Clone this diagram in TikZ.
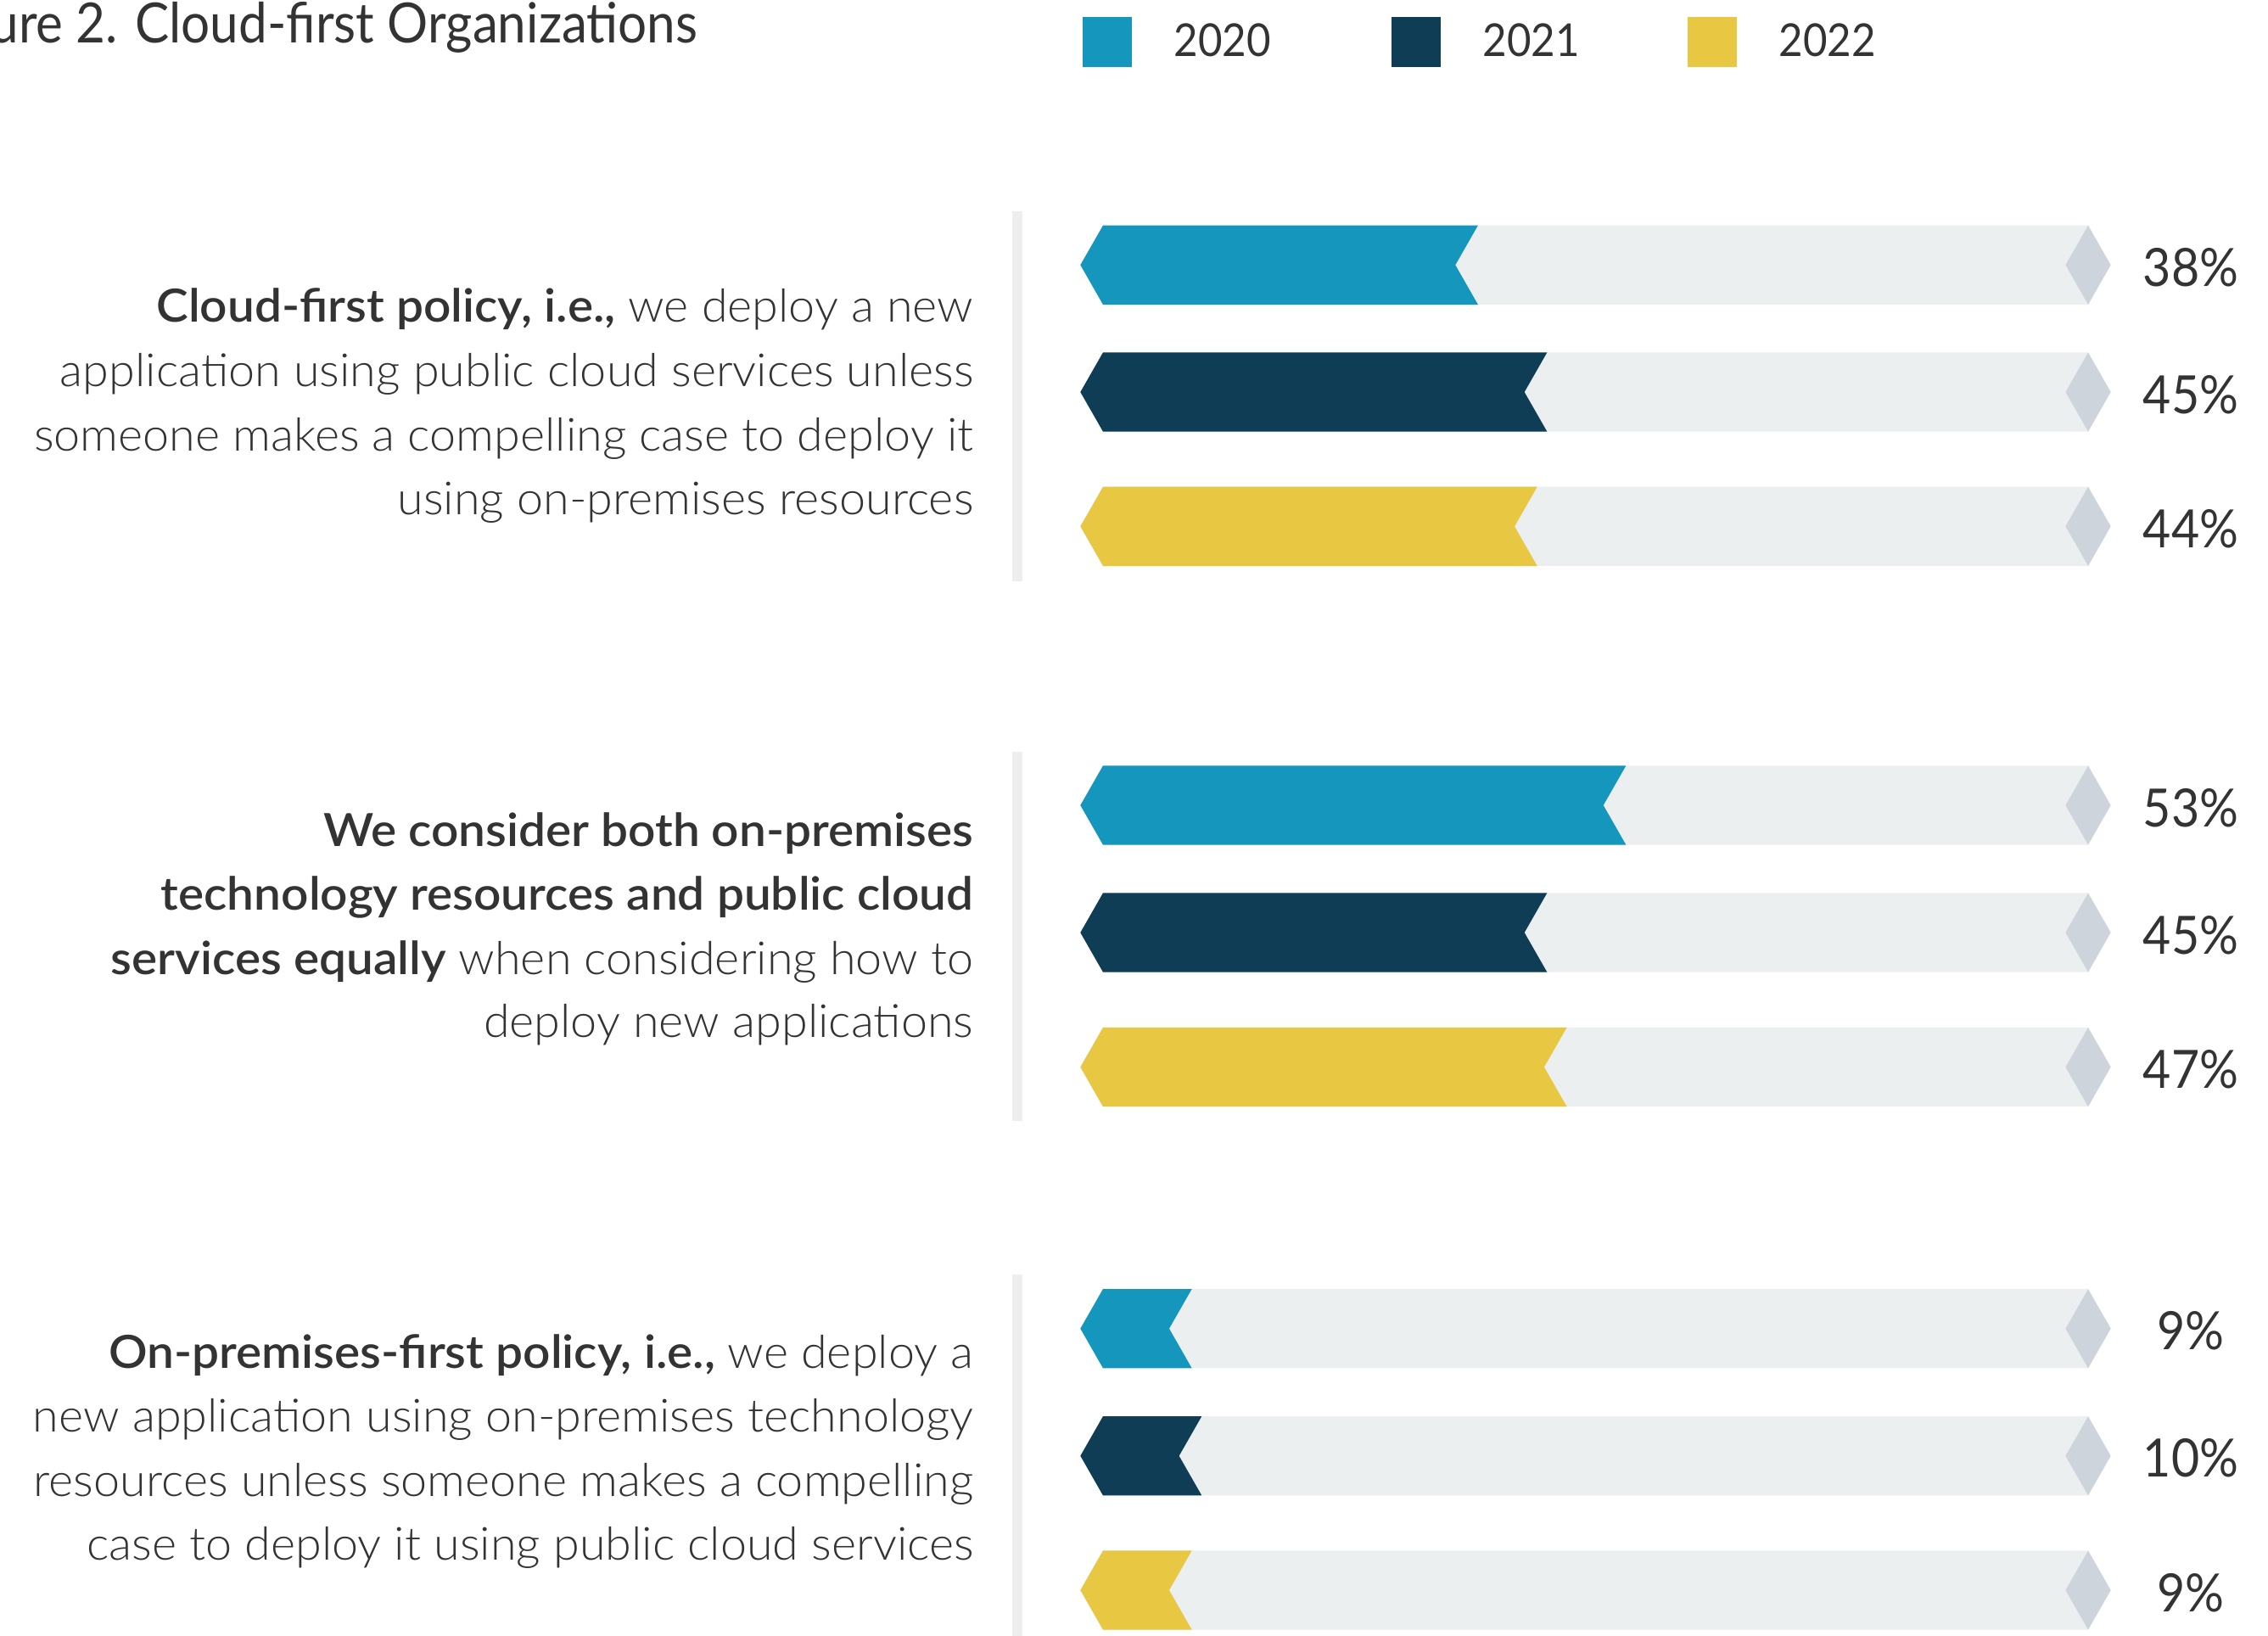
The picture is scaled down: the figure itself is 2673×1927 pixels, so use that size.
\documentclass[tikz,border=0pt]{standalone}
\usepackage{fontspec}
\setmainfont{Lato}[FakeStretch=0.92]
\newfontfamily\lightfont{Lato}[UprightFont={* Light}, BoldFont={* Semibold},
  UprightFeatures={FakeStretch=1.035}, BoldFeatures={FakeStretch=1.055}]

\definecolor{y2020}{RGB}{21,150,188}
\definecolor{y2021}{RGB}{15,61,85}
\definecolor{y2022}{RGB}{232,199,67}
\definecolor{track}{RGB}{235,239,240}
\definecolor{tipgray}{RGB}{205,212,220}
\definecolor{rule}{RGB}{238,238,238}
\definecolor{txt}{RGB}{51,51,51}

\tikzset{
  title/.style={anchor=base east, inner sep=0pt, text=txt, font=\fontsize{18.6pt}{21pt}\selectfont},
  yearlab/.style={anchor=base west, inner sep=0pt, text=txt, font=\fontsize{15.2pt}{18pt}\selectfont},
  desc/.style={anchor=base east, inner sep=0pt, text=txt, font=\lightfont\fontsize{15.3pt}{21.5pt}\selectfont},
  pct/.style={anchor=base, inner sep=0pt, text=txt, font=\fontsize{17.7pt}{20pt}\selectfont},
}

% one bar: mid y, percent, colour
\newcommand\chevbar[3]{%
  \fill[track] (1300,{#1-46.7}) -- (2461,{#1-46.7}) -- (2434.3,#1) -- (2461,{#1+46.7}) -- (1300,{#1+46.7}) -- (1273.3,#1) -- cycle;
  \fill[#3] (1273.3,#1) -- (1300,{#1-46.7}) -- ({1300+11.63*#2},{#1-46.7}) -- ({1273.3+11.63*#2},#1) -- ({1300+11.63*#2},{#1+46.7}) -- (1300,{#1+46.7}) -- cycle;
  \fill[tipgray] (2434.3,#1) -- (2461,{#1-46.7}) -- (2487.7,#1) -- (2461,{#1+46.7}) -- cycle;
}

\begin{document}
\begin{tikzpicture}[x=0.01cm, y=-0.01cm]
\useasboundingbox (0,0) rectangle (2673,1927);

% title and legend
\node[title] (title) at (823,51) {Figure 2. Cloud-first Organizations};
\fill[y2020] (1276,20) rectangle (1334,79);
\node[yearlab] (l2020) at (1383,66.5) {2020};
\fill[y2021] (1640,20) rectangle (1698,79);
\node[yearlab] (l2021) at (1747,66.5) {2021};
\fill[y2022] (1989,20) rectangle (2047,79);
\node[yearlab] (l2022) at (2096,66.5) {2022};

% dividers
\fill[rule] (1193,249.3) rectangle (1205,685);
\fill[rule] (1193,885.7) rectangle (1205,1321);
\fill[rule] (1193,1502) rectangle (1205,1938);

% group 1
\node[desc] (a1) at (1148,379) {{\bfseries Cloud-first policy, i.e.,} we deploy a new};
\node[desc] (a2) at (1148,455) {application using public cloud services unless};
\node[desc] (a3) at (1148,531) {someone makes a compelling case to deploy it};
\node[desc] (a4) at (1148,606) {using on-premises resources};
\chevbar{312.3}{38}{y2020}
\chevbar{462}{45}{y2021}
\chevbar{620.3}{44}{y2022}
\node[pct] (pa1) at (2582,337.3) {38\%};
\node[pct] (pa2) at (2582,487) {45\%};
\node[pct] (pa3) at (2582,645.3) {44\%};

% group 2
\node[desc] (b1) at (1148,997) {\bfseries We consider both on-premises};
\node[desc] (b2) at (1148,1072) {\bfseries technology resources and public cloud};
\node[desc] (b3) at (1148,1148) {{\bfseries services equally} when considering how to};
\node[desc] (b4) at (1148,1222) {deploy new applications};
\chevbar{949}{53}{y2020}
\chevbar{1099}{45}{y2021}
\chevbar{1257.5}{47}{y2022}
\node[pct] (pb1) at (2582,974) {53\%};
\node[pct] (pb2) at (2582,1124) {45\%};
\node[pct] (pb3) at (2582,1282.5) {47\%};

% group 3
\node[desc] (c1) at (1148,1612) {{\bfseries On-premises-first policy, i.e.,} we deploy a};
\node[desc] (c2) at (1148,1687) {new application using on-premises technology};
\node[desc] (c3) at (1148,1763) {resources unless someone makes a compelling};
\node[desc] (c4) at (1148,1838) {case to deploy it using public cloud services};
\chevbar{1565.7}{9}{y2020}
\chevbar{1715.7}{10}{y2021}
\chevbar{1874}{9}{y2022}
\node[pct] (pc1) at (2582,1590.7) {9\%};
\node[pct] (pc2) at (2582,1740.7) {10\%};
\node[pct] (pc3) at (2582,1899) {9\%};
\end{tikzpicture}
\end{document}
